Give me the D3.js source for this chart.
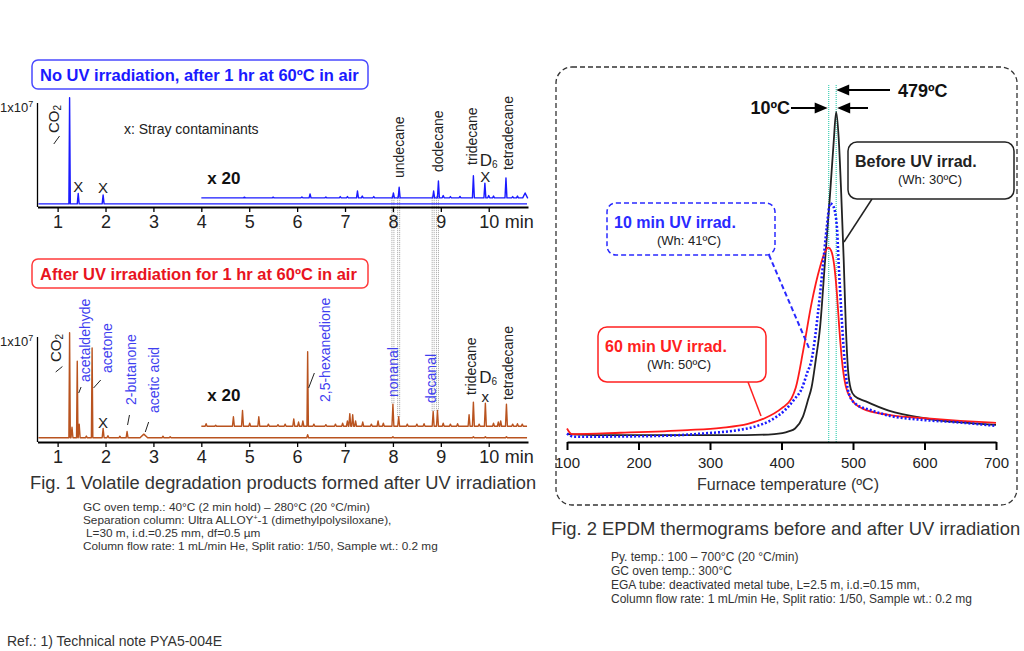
<!DOCTYPE html>
<html>
<head>
<meta charset="utf-8">
<script src="https://cdn.jsdelivr.net/npm/d3@7"></script>
<style>
  body { margin: 0; background: #fff; }
  svg { font-family: "Liberation Sans", Arial, sans-serif; }
</style>
</head>
<body>
<svg width="1024" height="651"></svg>
<script>
const svg = d3.select('svg');

// ---- Fig. 1 chromatograms: peaks as [retention time (min), height (x1e7), half width] ----
const minTicks = [1, 2, 3, 4, 5, 6, 7, 8, 9, 10];

const noUvBase = 0.03;
const noUvPeaks = [[1.25, 1.05, 0.015], [1.43, 0.13], [1.95, 0.115]];
const noUvX20Base = 0.088;
const noUvX20Peaks = [
  [4.9, 0.095], [5.5, 0.095], [6.1, 0.097], [6.27, 0.125], [6.6, 0.096], [6.9, 0.1],
  [7.05, 0.1], [7.26, 0.154], [7.36, 0.105], [7.6, 0.1], [8.01, 0.135], [8.13, 0.19],
  [8.85, 0.154], [8.95, 0.25], [9.05, 0.11], [9.2, 0.1], [9.4, 0.102], [9.68, 0.3],
  [9.92, 0.23], [10.0, 0.11], [10.1, 0.105], [10.36, 0.28], [10.5, 0.1], [10.6, 0.105],
  [10.76, 0.135, 0.05]
];

const uvBase = 0.04;
const uvPeaks = [
  [1.25, 1.04, 0.015], [1.3, 0.14], [1.41, 0.77, 0.015], [1.45, 0.17], [1.6, 0.057],
  [1.72, 0.895, 0.015], [1.95, 0.13], [2.05, 0.06], [2.3, 0.055], [2.45, 0.1],
  [2.8, 0.075, 0.08], [3.2, 0.055], [3.35, 0.05], [6.22, 0.07], [8.0, 0.05],
  [9.68, 0.05], [9.93, 0.05], [10.37, 0.05]
];
const uvX20Base = 0.15;
const uvX20Peaks = [
  [4.1, 0.175], [4.3, 0.16], [4.67, 0.24], [4.86, 0.3], [5.01, 0.18], [5.2, 0.24],
  [5.4, 0.17], [5.6, 0.165], [5.75, 0.17], [5.93, 0.22], [6.03, 0.19], [6.12, 0.2],
  [6.22, 0.86, 0.015], [6.35, 0.17], [6.6, 0.165], [6.8, 0.17], [6.95, 0.18], [7.05, 0.2],
  [7.1, 0.27], [7.16, 0.26], [7.22, 0.2], [7.37, 0.19], [7.55, 0.17], [7.69, 0.2],
  [7.8, 0.18], [8.0, 0.36], [8.12, 0.24], [8.3, 0.17], [8.5, 0.17], [8.65, 0.175],
  [8.84, 0.29], [8.93, 0.3], [9.05, 0.18], [9.2, 0.17], [9.35, 0.175], [9.59, 0.26],
  [9.68, 0.38], [9.8, 0.17], [9.93, 0.37], [10.1, 0.18], [10.2, 0.19], [10.25, 0.2],
  [10.37, 0.36], [10.5, 0.17], [10.6, 0.175], [10.7, 0.17]
];

// compound labels (retention time of label centre, bottom of rotated text in px)
const topLabels = [
  ['undecane', 8.13, 178], ['dodecane', 8.94, 172], ['tridecane', 9.66, 165], ['tetradecane', 10.41, 170]
];
const uvLabels = [
  ['acetaldehyde', 1.57, 382, 'p'], ['acetone', 2.03, 373, 'p'], ['2-butanone', 2.53, 405, 'p'],
  ['acetic acid', 3.01, 413, 'p'], ['2,5-hexanedione', 6.58, 402, 'p'], ['nonanal', 8.0, 397, 'p'],
  ['decanal', 8.8, 403, 'p'], ['tridecane', 9.64, 395, 'k'], ['tetradecane', 10.41, 400, 'k']
];
// retention times marked by the dotted guide lines
const guideTimes = [8.0, 8.12, 8.84, 8.93];

// ---- Fig. 2 EGA thermograms ----
const tempTicks = [100, 200, 300, 400, 500, 600, 700];
const beforeT = [100, 150, 250, 350, 390, 410, 419, 430, 437, 442, 448, 454, 461, 468, 473, 476.5, 480, 483.5, 487, 490, 493, 497, 502, 518, 550, 600, 647, 700];
const beforeI = [2.4, 2.1, 2.1, 2.1, 2.4, 3.2, 4.1, 7.7, 12.7, 16.5, 25, 34.9, 55.2, 75.4, 91, 100, 92, 75.4, 55.2, 34.9, 22, 16, 14, 12.3, 9.5, 7.2, 6, 5.2];
const uv10T = [100, 109, 222, 292, 339, 362, 386, 405, 419, 428, 436, 442, 451.5, 458.6, 463.4, 468, 472.7, 477.5, 479.7, 483.5, 488.2, 494, 503, 527, 550, 597, 644, 700];
const uv10I = [2.6, 1.6, 1.8, 2.6, 3.6, 4.6, 6.7, 9.7, 13.2, 16, 21, 24.8, 40, 55, 65.2, 72.3, 71.3, 65.2, 55, 40, 24.8, 14.8, 11.7, 9.5, 8, 6.7, 6, 4.9];
const uv60T = [100, 106.5, 175, 268.5, 315.5, 353, 376.5, 400, 414, 420, 430.5, 442, 454, 461, 465.6, 469.4, 474, 477.5, 480.7, 484.5, 490, 498.6, 512.7, 550, 600, 650, 700];
const uv60I = [4.1, 2.4, 2.8, 3.6, 4.3, 5.5, 7.2, 10.2, 13.2, 16.5, 27.9, 42, 53.1, 57.7, 58.9, 58, 53.1, 45, 34.9, 24.8, 16.8, 12.7, 10.2, 8.2, 7.2, 6.4, 5.8];
const peakTemps = [466, 476.5];

const purple = '#3f3ff0';

// ================= Fig. 1 =================
const x1 = d3.scaleLinear().domain([0.58, 10.82]).range([37.5, 528]);
const yTop = d3.scaleLinear().domain([0, 1]).range([207, 103]);
const yUv = d3.scaleLinear().domain([0, 1]).range([442, 337]);

const tracePoints = (t0, t1, base, peaks) => {
  const pts = [[t0, base]];
  peaks.slice().sort((a, b) => a[0] - b[0]).forEach(([t, h, w = 0.02]) => {
    pts.push([t - w, base], [t, h], [t + w, base]);
  });
  pts.push([t1, base]);
  return pts;
};

const drawPanel = (yScale, axisY, traces, color) => {
  const g = svg.append('g');
  const line = d3.line().x(d => x1(d[0])).y(d => yScale(d[1]));
  traces.forEach(pts => {
    g.append('path').attr('d', line(pts)).attr('fill', 'none')
      .attr('stroke', color).attr('stroke-width', 1.4).attr('stroke-linejoin', 'round');
  });
  // y axis line
  g.append('line').attr('x1', x1.range()[0]).attr('x2', x1.range()[0])
    .attr('y1', yScale(1)).attr('y2', axisY).attr('stroke', '#000').attr('stroke-width', 1.3);
  const ax = g.append('g').attr('transform', `translate(0,${axisY})`)
    .call(d3.axisBottom(x1).tickValues(minTicks).tickSize(5).tickSizeOuter(0).tickPadding(3));
  ax.select('.domain').attr('stroke-width', 2);
  ax.selectAll('.tick line').attr('stroke-width', 1.3);
  ax.selectAll('.tick text').attr('font-size', 18).attr('font-family', 'Liberation Sans, Arial, sans-serif').attr('fill', '#222');
  g.append('text').attr('x', x1(10) + 16).attr('y', axisY + 8).attr('dy', '0.71em')
    .attr('font-size', 18).attr('fill', '#222').text('min');
  // 1x10^7
  const lab = g.append('text').attr('x', 0).attr('y', yScale(1) + 9).attr('font-size', 13).attr('fill', '#222');
  lab.append('tspan').text('1x10');
  lab.append('tspan').attr('font-size', 9).attr('dy', -5).text('7');
  return g;
};

// dotted guide lines linking both chromatograms
const guides = svg.append('g');
guideTimes.forEach(t => {
  const yEnd = yUv(uvX20Peaks.find(p => p[0] === t)[1]);
  [-1, 1].forEach(o => {
    guides.append('line').attr('x1', x1(t) + o).attr('x2', x1(t) + o)
      .attr('y1', yTop(noUvX20Base) - 2).attr('y2', yEnd)
      .attr('stroke', '#888').attr('stroke-width', 0.8).attr('stroke-dasharray', '1,1');
  });
});

drawPanel(yTop, 207, [
  tracePoints(0.6, 10.8, noUvBase, noUvPeaks),
  tracePoints(4.0, 10.8, noUvX20Base, noUvX20Peaks)
], '#1a1aff');

drawPanel(yUv, 442, [
  tracePoints(0.6, 10.8, uvBase, uvPeaks),
  tracePoints(4.0, 10.8, uvX20Base, uvX20Peaks)
], '#b9531f');

// title boxes
const titleBox = (y, text, stroke, fill) => {
  svg.append('rect').attr('x', 32).attr('y', y).attr('width', 336).attr('height', 29).attr('rx', 6)
    .attr('fill', 'none').attr('stroke', stroke).attr('stroke-width', 1.5);
  svg.append('text').attr('x', 40).attr('y', y + 15).attr('dominant-baseline', 'central')
    .attr('font-size', 16.5).attr('font-weight', 'bold').attr('fill', fill).text(text);
};
titleBox(60, 'No UV irradiation, after 1 hr at 60ºC in air', '#4a4aff', '#1a1aff');
titleBox(259, 'After UV irradiation for 1 hr at 60ºC in air', '#ff3b3b', '#e8141e');

const rotLabel = (text, t, yb, color) => {
  svg.append('text').attr('transform', `translate(${x1(t)},${yb}) rotate(-90)`)
    .attr('dominant-baseline', 'central').attr('font-size', 14)
    .attr('fill', color).text(text);
};
const co2 = (t, yb) => {
  const tx = svg.append('text').attr('transform', `translate(${x1(t)},${yb}) rotate(-90)`)
    .attr('dominant-baseline', 'central').attr('font-size', 15).attr('fill', '#222');
  tx.append('tspan').text('CO');
  tx.append('tspan').attr('font-size', 10).attr('dy', 4).text('2');
};
const leader = (t1, y1, t2, y2) => {
  svg.append('line').attr('x1', x1(t1)).attr('y1', y1).attr('x2', x1(t2)).attr('y2', y2)
    .attr('stroke', '#222').attr('stroke-width', 1);
};
const plain = (text, t, y, opts) => {
  const o = opts || {};
  svg.append('text').attr('x', x1(t)).attr('y', y).attr('text-anchor', 'middle')
    .attr('dominant-baseline', 'central').attr('font-size', o.size || 14)
    .attr('font-weight', o.weight || 'normal').attr('fill', o.fill || '#222').text(text);
};
const d6 = (t, y) => {
  const tx = svg.append('text').attr('x', x1(t)).attr('y', y).attr('text-anchor', 'middle')
    .attr('dominant-baseline', 'central').attr('font-size', 17).attr('fill', '#222');
  tx.append('tspan').text('D');
  tx.append('tspan').attr('font-size', 10).attr('dy', 4).text('6');
};

// top chromatogram annotations
co2(0.9, 133);
leader(0.92, 144, 1.04, 136);
svg.append('text').attr('x', 124).attr('y', 129).attr('dominant-baseline', 'central')
  .attr('font-size', 14).attr('fill', '#222').text('x: Stray contaminants');
plain('X', 1.43, 186, { size: 15 });
plain('X', 1.95, 187, { size: 15 });
plain('x 20', 4.47, 178, { size: 17, weight: 'bold', fill: '#111' });
topLabels.forEach(([t, tm, yb]) => rotLabel(t, tm, yb, '#222'));
d6(10.0, 160);
plain('X', 9.93, 176, { size: 15 });

// bottom chromatogram annotations
co2(0.94, 362);
leader(0.96, 372, 1.1, 366.5);
leader(1.44, 393, 1.49, 387);
leader(1.75, 388, 1.9, 380);
leader(2.46, 425, 2.5, 415);
leader(2.83, 432, 2.9, 422);
leader(6.24, 388, 6.36, 373);
uvLabels.forEach(([t, tm, yb, c]) => rotLabel(t, tm, yb, c === 'p' ? purple : '#222'));
plain('X', 1.95, 422, { size: 15 });
plain('x 20', 4.47, 395, { size: 17, weight: 'bold', fill: '#111' });
d6(9.99, 377);
plain('x', 9.93, 396, { size: 15 });

// captions
svg.append('text').attr('x', 30).attr('y', 482).attr('dominant-baseline', 'central')
  .attr('font-size', 18.3).attr('fill', '#333')
  .text('Fig. 1 Volatile degradation products formed after UV irradiation');

const notes1 = svg.append('g').attr('font-size', 11.8).attr('fill', '#333');
notes1.append('text').attr('x', 83).attr('y', 507).attr('dominant-baseline', 'central')
  .text('GC oven temp.: 40°C (2 min hold) – 280°C (20 °C/min)');
const sep = notes1.append('text').attr('x', 83).attr('y', 520).attr('dominant-baseline', 'central');
sep.append('tspan').text('Separation column: Ultra ALLOY');
sep.append('tspan').attr('font-size', 7).attr('dy', -3).text('+');
sep.append('tspan').attr('dy', 3).text('-1 (dimethylpolysiloxane),');
notes1.append('text').attr('x', 86).attr('y', 533).attr('dominant-baseline', 'central')
  .text('L=30 m, i.d.=0.25 mm, df=0.5 µm');
notes1.append('text').attr('x', 83).attr('y', 545.5).attr('dominant-baseline', 'central')
  .text('Column flow rate: 1 mL/min He, Split ratio: 1/50, Sample wt.: 0.2 mg');

// ================= Fig. 2 =================
svg.append('rect').attr('x', 556).attr('y', 67).attr('width', 461).attr('height', 438).attr('rx', 16)
  .attr('fill', 'none').attr('stroke', '#333').attr('stroke-width', 1.3).attr('stroke-dasharray', '5,3');

const xT = d3.scaleLinear().domain([100, 700]).range([567, 996]);
const yI = d3.scaleLinear().domain([0, 100]).range([442, 112]);

const f2 = svg.append('g');
peakTemps.forEach(t => {
  f2.append('line').attr('x1', xT(t)).attr('x2', xT(t)).attr('y1', 85).attr('y2', 442)
    .attr('stroke', '#3fd0b4').attr('stroke-width', 1.2).attr('stroke-dasharray', '1,1');
});

const tline = d3.line().x(d => xT(d[0])).y(d => yI(d[1])).curve(d3.curveMonotoneX);
f2.append('path').attr('d', tline(d3.zip(beforeT, beforeI))).attr('fill', 'none')
  .attr('stroke', '#222').attr('stroke-width', 1.8);
f2.append('path').attr('d', tline(d3.zip(uv60T, uv60I))).attr('fill', 'none')
  .attr('stroke', '#ff1a1a').attr('stroke-width', 1.8);
f2.append('path').attr('d', tline(d3.zip(uv10T, uv10I))).attr('fill', 'none')
  .attr('stroke', '#1a1aff').attr('stroke-width', 2.6).attr('stroke-dasharray', '2,2');

const axT = f2.append('g').attr('transform', 'translate(0,442)')
  .call(d3.axisBottom(xT).tickValues(tempTicks).tickSize(8).tickSizeOuter(0).tickPadding(7));
axT.select('.domain').attr('stroke-width', 2);
axT.selectAll('.tick line').attr('stroke-width', 2);
axT.selectAll('.tick text').attr('font-size', 15).attr('font-family', 'Liberation Sans, Arial, sans-serif').attr('fill', '#222');
f2.append('text').attr('x', 788).attr('y', 484).attr('text-anchor', 'middle').attr('dominant-baseline', 'central')
  .attr('font-size', 16).attr('fill', '#333').text('Furnace temperature (ºC)');

// arrows
const arrow = (xFrom, y, xTip) => {
  const dir = xTip > xFrom ? 1 : -1;
  f2.append('line').attr('x1', xFrom).attr('y1', y).attr('x2', xTip - dir * 10).attr('y2', y)
    .attr('stroke', '#000').attr('stroke-width', 2);
  f2.append('path').attr('d', `M${xTip},${y} L${xTip - dir * 13},${y - 5.5} L${xTip - dir * 13},${y + 5.5} Z`)
    .attr('fill', '#000');
};
arrow(890, 90, xT(peakTemps[1]));
arrow(791, 108, xT(peakTemps[0]) - 1);
arrow(868, 108, xT(peakTemps[1]) + 1);
f2.append('text').attr('x', 898).attr('y', 91).attr('dominant-baseline', 'central')
  .attr('font-size', 18).attr('font-weight', 'bold').attr('fill', '#111').text('479ºC');
f2.append('text').attr('x', 790).attr('y', 108).attr('text-anchor', 'end').attr('dominant-baseline', 'central')
  .attr('font-size', 18).attr('font-weight', 'bold').attr('fill', '#111').text('10ºC');

// callout boxes
const callout = (x, y, w, h, color, dash, title, sub, subX, lead) => {
  f2.append('line').attr('x1', lead[0]).attr('y1', lead[1]).attr('x2', lead[2]).attr('y2', lead[3])
    .attr('stroke', color).attr('stroke-width', dash ? 2 : 1.5).attr('stroke-dasharray', dash || null);
  f2.append('rect').attr('x', x).attr('y', y).attr('width', w).attr('height', h).attr('rx', 9)
    .attr('fill', '#fff').attr('stroke', color).attr('stroke-width', 1.5).attr('stroke-dasharray', dash || null);
  f2.append('text').attr('x', x + 7).attr('y', y + 19).attr('dominant-baseline', 'central')
    .attr('font-size', 16).attr('font-weight', 'bold').attr('fill', color).text(title);
  f2.append('text').attr('x', subX).attr('y', y + 37).attr('dominant-baseline', 'central')
    .attr('font-size', 13).attr('fill', '#222').text(sub);
};
callout(848, 142, 166, 57, '#222', null, 'Before UV irrad.', '(Wh: 30ºC)', 898, [872, 199, 844, 242]);
callout(607, 203, 168, 52, '#2a2aff', '5,3', '10 min UV irrad.', '(Wh: 41ºC)', 657, [769, 255, 809, 348]);
callout(598, 327, 168, 55, '#ff2020', null, '60 min UV irrad.', '(Wh: 50ºC)', 647, [748, 382, 761, 416]);

svg.append('text').attr('x', 551).attr('y', 528).attr('dominant-baseline', 'central')
  .attr('font-size', 18.4).attr('fill', '#333').text('Fig. 2 EPDM thermograms before and after UV irradiation');

const notes2 = ['Py. temp.: 100 – 700°C (20 °C/min)', 'GC oven temp.: 300°C',
  'EGA tube: deactivated metal tube, L=2.5 m, i.d.=0.15 mm,',
  'Column flow rate: 1 mL/min He, Split ratio: 1/50, Sample wt.: 0.2 mg'];
svg.append('g').selectAll('text').data(notes2).join('text')
  .attr('x', 611).attr('y', (d, i) => 557 + i * 14).attr('dominant-baseline', 'central')
  .attr('font-size', 12).attr('fill', '#333').text(d => d);

svg.append('text').attr('x', 7).attr('y', 641).attr('dominant-baseline', 'central')
  .attr('font-size', 14).attr('fill', '#333').text('Ref.: 1) Technical note PYA5-004E');
</script>
</body>
</html>
